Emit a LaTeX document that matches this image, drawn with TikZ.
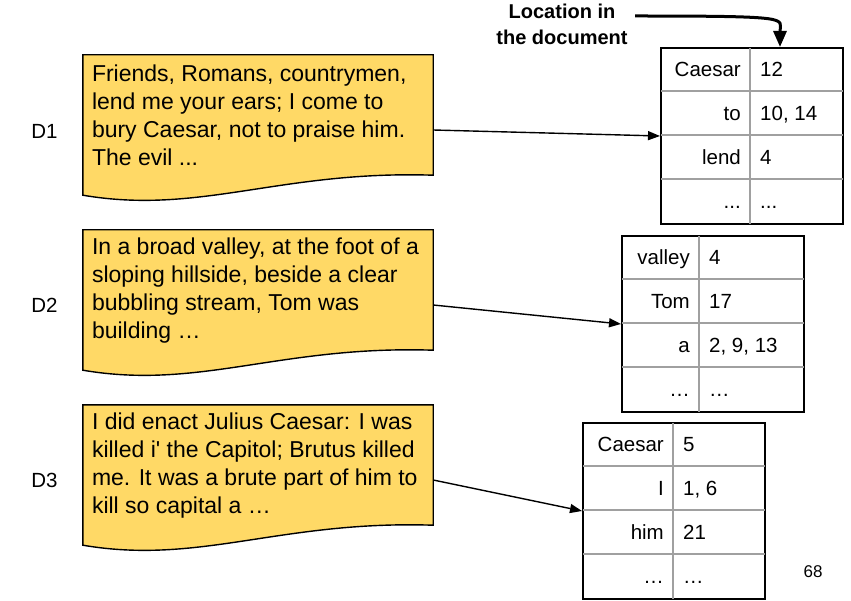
\documentclass[tikz,border=0pt]{standalone}
\usepackage{fontspec}
\setmainfont{Liberation Sans}[Ligatures=TeXOff]
\usetikzlibrary{arrows.meta,positioning}

\definecolor{docyellow}{RGB}{255,217,102}
\definecolor{tabgray}{RGB}{160,160,160}

\newcommand{\threedots}{...}
\newcommand{\docoutline}[1]{%
  \draw[docshape] (#1.south west) -- (#1.north west) -- (#1.north east)
    -- ([yshift=20pt]#1.south east)
    .. controls ([xshift=-153pt,yshift=25pt]#1.south east)
    and ([xshift=117pt,yshift=-20pt]#1.south west) .. (#1.south west) -- cycle;}

\begin{document}
\begin{tikzpicture}[x=1pt,y=-1pt,
    docshape/.style={draw=black,fill=docyellow,line width=1.4pt},
    docbox/.style={minimum width=350pt,minimum height=140pt,inner sep=0pt},
    doctext/.style={anchor=north west,inner sep=0pt,align=left,
      font=\fontsize{23}{28}\selectfont},
    lbl/.style={font=\fontsize{20.5}{24}\selectfont,inner sep=0pt},
    postab/.style={draw=black,line width=2pt,minimum width=182pt,
      minimum height=176pt,inner sep=0pt,anchor=north west},
    tabline/.style={draw=tabgray,line width=1.8pt,shorten <=1pt,shorten >=1pt},
    term/.style={font=\fontsize{20.5}{24}\selectfont,inner sep=0pt},
    link/.style={-{Triangle[length=12pt,width=9pt]},line width=1.4pt},
    callout/.style={-{Triangle[length=16pt,width=13pt]},line width=3pt},
  ]
  \useasboundingbox (0,0) rectangle (851,601);

  % documents
  \node[docbox] (d1) at (258,125) {};
  \node[docbox] (d2) at (258,300) {};
  \node[docbox] (d3) at (258,475) {};
  \docoutline{d1}
  \docoutline{d2}
  \docoutline{d3}
  \node[doctext] (d1text) at ([xshift=9pt,yshift=-7pt]d1.north west)
    {\strut Friends, Romans, countrymen,\\lend me your ears; I come to\\
     bury Caesar, not to praise him.\\The evil ...};
  \node[doctext] (d2text) at ([xshift=9pt,yshift=-5pt]d2.north west)
    {\strut In a broad valley, at the foot of a\\sloping hillside, beside a clear\\
     bubbling stream, Tom was\\building …};
  \node[doctext] (d3text) at ([xshift=9pt,yshift=-5pt]d3.north west)
    {\strut I did enact Julius Caesar: I was\\killed i' the Capitol; Brutus killed\\
     me. It was a brute part of him to\\kill so capital a …};

  \node[lbl, left=25pt of d1, yshift=-6pt] (l1) {D1};
  \node[lbl, left=25pt of d2, yshift=-5pt] (l2) {D2};
  \node[lbl, left=25pt of d3, yshift=-5pt] (l3) {D3};

  % position tables
  \node[postab] (t1) at (660,47) {};
  \node[postab] (t2) at (621,235) {};
  \node[postab] (t3) at (582,422) {};

  \foreach \t/\d in {t1/90,t2/78,t3/91} {
    \foreach \i in {1,2,3}
      \draw[tabline] ([yshift={-44pt*\i}]\t.north west)
        -- ([yshift={-44pt*\i}]\t.north east);
    \draw[tabline] ([xshift=\d pt]\t.north west) -- ([xshift=\d pt]\t.south west);
  }

  \foreach \w/\p [count=\i] in {Caesar/12, to/{10, 14}, lend/4, \threedots/\threedots} {
    \node[term, anchor=base east] (t1w\i)
      at ([xshift=81pt,yshift={-(44*\i-14.5)*1pt}]t1.north west) {\w};
    \node[term, anchor=base west] (t1p\i)
      at ([xshift=100pt,yshift={-(44*\i-14.5)*1pt}]t1.north west) {\p};
  }
  \foreach \w/\p [count=\i] in {valley/4, Tom/17, a/{2, 9, 13}, …/…} {
    \node[term, anchor=base east] (t2w\i)
      at ([xshift=69pt,yshift={-(44*\i-14.5)*1pt}]t2.north west) {\w};
    \node[term, anchor=base west] (t2p\i)
      at ([xshift=88pt,yshift={-(44*\i-14.5)*1pt}]t2.north west) {\p};
  }
  \foreach \w/\p [count=\i] in {Caesar/5, I/{1, 6}, him/21, …/…} {
    \node[term, anchor=base east] (t3w\i)
      at ([xshift=82pt,yshift={-(44*\i-14.5)*1pt}]t3.north west) {\w};
    \node[term, anchor=base west] (t3p\i)
      at ([xshift=101pt,yshift={-(44*\i-14.5)*1pt}]t3.north west) {\p};
  }

  % documents to their tables
  \draw[link] ([yshift=-5pt]d1.east) -- (t1.west);
  \draw[link] ([yshift=-5pt]d2.east) -- (t2.west);
  \draw[link] ([yshift=-5pt]d3.east) -- (t3.west);

  \node[align=center,font=\bfseries\fontsize{20}{26}\selectfont] (loc) at (562,24)
    {Location in\\the document};
  \coordinate (locout) at (635,16);
  \draw[callout] (locout) to[out=0,in=90,out looseness=2.8,in looseness=0.5]
    ([xshift=28pt]t1.north);

  \node[font=\fontsize{17}{20}\selectfont] (page) at (813,572) {68};
\end{tikzpicture}
\end{document}
